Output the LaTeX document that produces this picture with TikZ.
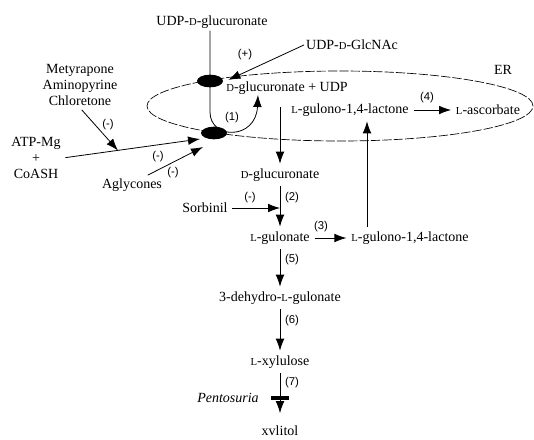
\documentclass[tikz,border=0pt]{standalone}
\usepackage{fontspec}
\setmainfont{Liberation Serif}
\newfontfamily\stepfont{Liberation Sans}
\usetikzlibrary{arrows.meta,shapes.geometric}
\newcommand{\scl}[1]{{\fontsize{8}{9}\selectfont #1}}

\begin{document}
\begin{tikzpicture}[x=0.75pt,y=-0.75pt,
    met/.style={inner sep=1.5pt, font=\fontsize{10.5}{12}\selectfont},
    num/.style={inner sep=1pt, font=\stepfont\fontsize{8.5}{10}\selectfont},
    carrier/.style={ellipse, fill=black, minimum width=19.5pt, minimum height=9.5pt, inner sep=0pt},
    blockbar/.style={fill=black, minimum width=13pt, minimum height=2.8pt, inner sep=0pt},
    flow/.style={line width=0.6pt, -{Latex[length=9pt,width=6.5pt]}, shorten <=2pt, shorten >=2pt},
    erline/.style={line width=0.5pt, dash pattern=on 7pt off 1.5pt}]
    \useasboundingbox (0,0) rectangle (534,439);

    % membrane
    \draw[erline] (340,106) ellipse [x radius=144.75pt, y radius=26.25pt];
    \node[met] (er) at (503,70) {ER};

    % metabolites
    \node[met] (udpglc) at (212,22) {UDP-\scl{D}-glucuronate};
    \node[met] (glcnac) at (352,45) {UDP-\scl{D}-GlcNAc};
    \node[met] (glcudp) at (287,88) {\scl{D}-glucuronate + UDP};
    \node[met] (lacer) at (350,110) {\scl{L}-gulono-1,4-lactone};
    \node[met] (asc) at (488,110) {\scl{L}-ascorbate};
    \node[met, align=center] (inhib) at (80,85) {Metyrapone\\Aminopyrine\\Chloretone};
    \node[met, align=center] (atp) at (36,158) {ATP-Mg\\+\\CoASH};
    \node[met] (agly) at (132,185) {Aglycones};
    \node[met] (glcA) at (280,175) {\scl{D}-glucuronate};
    \node[met] (sorb) at (205,208) {Sorbinil};
    \node[met] (gulon) at (280,238) {\scl{L}-gulonate};
    \node[met] (lac) at (410,238) {\scl{L}-gulono-1,4-lactone};
    \node[met] (dehyd) at (280,298) {3-dehydro-\scl{L}-gulonate};
    \node[met] (xylu) at (280,362) {\scl{L}-xylulose};
    \node[met] (xyl) at (280,431) {xvlitol};
    \node[met] (pento) at (228,398) {\itshape Pentosuria};

    % transport and step (1)
    \coordinate (bend) at (210,112);
    \coordinate (s1tip) at (258,95);
    \coordinate (up) at (367,0);
    \draw[flow, shorten <=0pt, shorten >=0pt] (udpglc.south -| bend) -- (bend)
        .. controls (210,140) and (256,140) .. (s1tip);
    \draw[flow, shorten <=0pt] (glcnac.west) -- (226,81);
    \path (atp.east) -- (216,137) coordinate[pos=0.36] (hit);
    \draw[flow, shorten >=0pt] (atp.east) -- (200,139);
    \draw[flow, shorten >=0pt] (inhib.south) -- (hit);
    \draw[flow, shorten >=0pt] ([xshift=10pt]agly.north) -- (203,147);
    \node[carrier] (upper) at (210,81) {};
    \node[carrier] (lower) at (214,133) {};

    % pathway
    \draw[flow, shorten <=8pt] (glcA |- glcudp.south) -- (glcA.north);
    \draw[flow] (glcA) -- (gulon);
    \draw[flow, shorten >=0pt] (sorb.east) -- (sorb.east -| gulon.north);
    \draw[flow] (gulon) -- (lac);
    \draw[flow] (lac.north -| up) -- (lacer.south -| up);
    \draw[flow] (lacer) -- (asc);
    \draw[flow] (gulon) -- (dehyd);
    \draw[flow] (dehyd) -- (xylu);
    \draw[flow, shorten >=8pt] (xylu) -- (xyl);
    \node[blockbar] (blk) at (280,398) {};

    % labels
    \node[num] (n1) at (232,118) {(1)};
    \node[num] (n2) at (292,198) {(2)};
    \node[num] (n3) at (321,227) {(3)};
    \node[num] (n4) at (427,98) {(4)};
    \node[num] (n5) at (292,260) {(5)};
    \node[num] (n6) at (292,321) {(6)};
    \node[num] (n7) at (292,383) {(7)};
    \node[num] (pl) at (245,55) {(+)};
    \node[num] (mi1) at (108,125) {(-)};
    \node[num] (mi2) at (158,157) {(-)};
    \node[num] (mi3) at (173,173) {(-)};
    \node[num] (mi4) at (250,198) {(-)};
\end{tikzpicture}
\end{document}
